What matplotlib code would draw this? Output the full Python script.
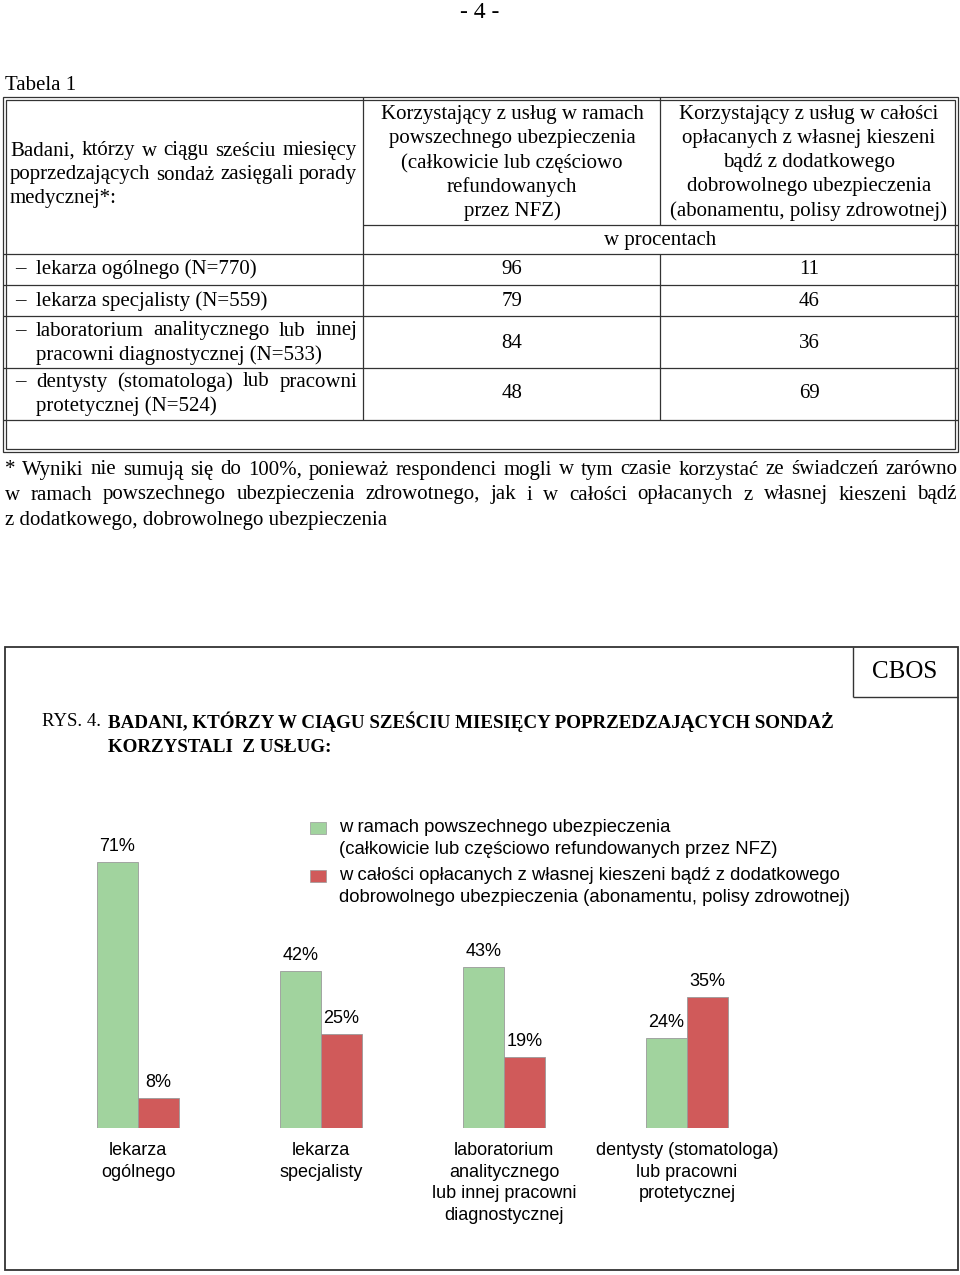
import numpy as np
import matplotlib
matplotlib.use("Agg")
from matplotlib import pyplot as plt
from matplotlib.patches import Rectangle

# ---- data ----
table_rows = ["lekarza ogólnego (N=770)",
              "lekarza specjalisty (N=559)",
              "laboratorium analitycznego lub innej\npracowni diagnostycznej (N=533)",
              "dentysty (stomatologa) lub pracowni\nprotetycznej (N=524)"]
table_nfz = [96, 79, 84, 48]
table_private = [11, 46, 36, 69]

categories = ["lekarza\nogólnego", "lekarza\nspecjalisty",
              "laboratorium\nanalitycznego\nlub innej pracowni\ndiagnostycznej",
              "dentysty (stomatologa)\nlub pracowni\nprotetycznej"]
nfz = [71, 42, 43, 24]
private = [8, 25, 19, 35]

legend_labels = ["w ramach powszechnego ubezpieczenia\n(całkowicie lub częściowo refundowanych przez NFZ)",
                 "w całości opłacanych z własnej kieszeni bądź z dodatkowego\ndobrowolnego ubezpieczenia (abonamentu, polisy zdrowotnej)"]

GREEN = "#a1d39e"
RED = "#d05a5a"
SERIF = "Liberation Serif"
SANS = "Liberation Sans"

W, H = 960, 1275
fig = plt.figure(figsize=(W / 100, H / 100), dpi=100)
ax0 = fig.add_axes([0, 0, 1, 1])
ax0.set_xlim(0, W)
ax0.set_ylim(H, 0)
ax0.axis("off")
renderer = fig.canvas.get_renderer()


def justify(line, x0, x1, y, **kw):
    words = line.split()
    texts = [ax0.text(0, y, w, va="center", ha="left", **kw) for w in words]
    widths = [t.get_window_extent(renderer).width for t in texts]
    gap = (x1 - x0 - sum(widths)) / (len(words) - 1)
    x = x0
    for t, w in zip(texts, widths):
        t.set_x(x)
        x += w + gap


def hline(y, x0, x1, lw=0.9):
    ax0.plot([x0, x1], [y, y], color="#333333", lw=lw, solid_capstyle="butt")


def vline(x, y0, y1, lw=0.9):
    ax0.plot([x, x], [y0, y1], color="#333333", lw=lw, solid_capstyle="butt")


# ---- page header ----
ax0.text(480, 12, "- 4 -", ha="center", va="center", family=SERIF, fontsize=17)
ax0.text(5, 85, "Tabela 1", ha="left", va="center", family=SERIF, fontsize=15)

# ---- table ----
L, R, T, B = 3, 958, 97, 452
c1, c2 = 363, 660
for off in (0, 3):
    ax0.add_patch(Rectangle((L + off, T + off), R - L - 2 * off, B - T - 2 * off,
                            fill=False, ec="#333333", lw=0.9))
hline(225, c1, R)
for y in (254, 285, 316, 368, 420):
    hline(y, L, R)
vline(c1, T, 420)
vline(c2, T, 225)
vline(c2, 254, 420)

tfs = 15
justify("Badani, którzy w ciągu sześciu miesięcy", 10, 357, 151, family=SERIF, fontsize=tfs)
justify("poprzedzających sondaż zasięgali porady", 10, 357, 175, family=SERIF, fontsize=tfs)
ax0.text(10, 199, "medycznej*:", va="center", family=SERIF, fontsize=tfs)

head2 = ["Korzystający z usług w ramach", "powszechnego ubezpieczenia",
         "(całkowicie lub częściowo", "refundowanych", "przez NFZ)"]
head3 = ["Korzystający z usług w całości", "opłacanych z własnej kieszeni",
         "bądź z dodatkowego", "dobrowolnego ubezpieczenia",
         "(abonamentu, polisy zdrowotnej)"]
for i, (a, b) in enumerate(zip(head2, head3)):
    y = 115 + 24 * i
    ax0.text(512, y, a, ha="center", va="center", family=SERIF, fontsize=tfs)
    ax0.text(809, y, b, ha="center", va="center", family=SERIF, fontsize=tfs)
ax0.text(660, 240, "w procentach", ha="center", va="center", family=SERIF, fontsize=tfs)

row_y = [269, 301, 343, 394]
for lab, v1, v2, y in zip(table_rows, table_nfz, table_private, row_y):
    lines = lab.split("\n")
    ax0.text(15, y if len(lines) == 1 else y - 12, "–", va="center", family=SERIF, fontsize=tfs)
    if len(lines) == 1:
        ax0.text(36, y, lines[0], va="center", family=SERIF, fontsize=tfs)
    else:
        justify(lines[0], 36, 357, y - 12, family=SERIF, fontsize=tfs)
        ax0.text(36, y + 12, lines[1], va="center", family=SERIF, fontsize=tfs)
    ax0.text(512, y, str(v1), ha="center", va="center", family=SERIF, fontsize=tfs)
    ax0.text(809, y, str(v2), ha="center", va="center", family=SERIF, fontsize=tfs)

# ---- footnote ----
justify("* Wyniki nie sumują się do 100%, ponieważ respondenci mogli w tym czasie "
        "korzystać ze świadczeń zarówno", 5, 957, 470, family=SERIF, fontsize=tfs)
justify("w ramach powszechnego ubezpieczenia zdrowotnego, jak i w całości opłacanych "
        "z własnej kieszeni bądź", 5, 957, 495, family=SERIF, fontsize=tfs)
ax0.text(5, 520, "z dodatkowego, dobrowolnego ubezpieczenia", va="center",
         family=SERIF, fontsize=tfs)

# ---- chart frame ----
ax0.add_patch(Rectangle((5, 647), 953, 623, fill=False, ec="#333333", lw=1.3))
vline(853, 647, 697, lw=1.0)
hline(697, 853, 958, lw=1.0)
ax0.text(905, 672, "CBOS", ha="center", va="center", family=SERIF, fontsize=18)

ax0.text(42, 722, "RYS. 4.", va="center", family=SERIF, fontsize=13.5)
ax0.text(108, 722, "BADANI, KTÓRZY W CIĄGU SZEŚCIU MIESIĘCY POPRZEDZAJĄCYCH SONDAŻ",
         va="center", family=SERIF, fontsize=13.7, fontweight="bold")
ax0.text(108, 747, "KORZYSTALI  Z USŁUG:", va="center", family=SERIF,
         fontsize=13.7, fontweight="bold")

# ---- legend ----
for (lab, col, y) in zip(legend_labels, [GREEN, RED], [828, 876]):
    ax0.add_patch(Rectangle((310, y - 6), 16, 12, fc=col, ec="#999999", lw=0.5))
    for k, part in enumerate(lab.split("\n")):
        ax0.text(339, y + 22 * k, part, va="center", ha="left", family=SANS,
                 fontsize=13.3)

# ---- bars ----
base_px = 1128
ymax = 80
px_per_unit = 3.75
ax = fig.add_axes([46.5 / W, (H - base_px) / H, (778.5 - 46.5) / W, ymax * px_per_unit / H])
ax.patch.set_alpha(0)
x = np.arange(len(categories))
bw = 0.224
b1 = ax.bar(x - bw / 2, nfz, bw, color=GREEN, edgecolor="#9a9a9a", lw=0.6)
b2 = ax.bar(x + bw / 2, private, bw, color=RED, edgecolor="#9a9a9a", lw=0.6)
for bars, vals in ((b1, nfz), (b2, private)):
    for r, v in zip(bars, vals):
        ax.annotate(f"{v}%", (r.get_x() + r.get_width() / 2, v), xytext=(0, 5),
                    textcoords="offset points", ha="center", va="bottom",
                    family=SANS, fontsize=13)
ax.set_xlim(-0.5, len(categories) - 0.5)
ax.set_ylim(0, ymax)
ax.set_yticks([])
ax.set_xticks(x)
ax.set_xticklabels(categories, family=SANS, fontsize=13, linespacing=1.36)
ax.tick_params(axis="x", length=0, pad=10)
for s in ax.spines.values():
    s.set_visible(False)

fig.savefig("out.png", dpi=100)
